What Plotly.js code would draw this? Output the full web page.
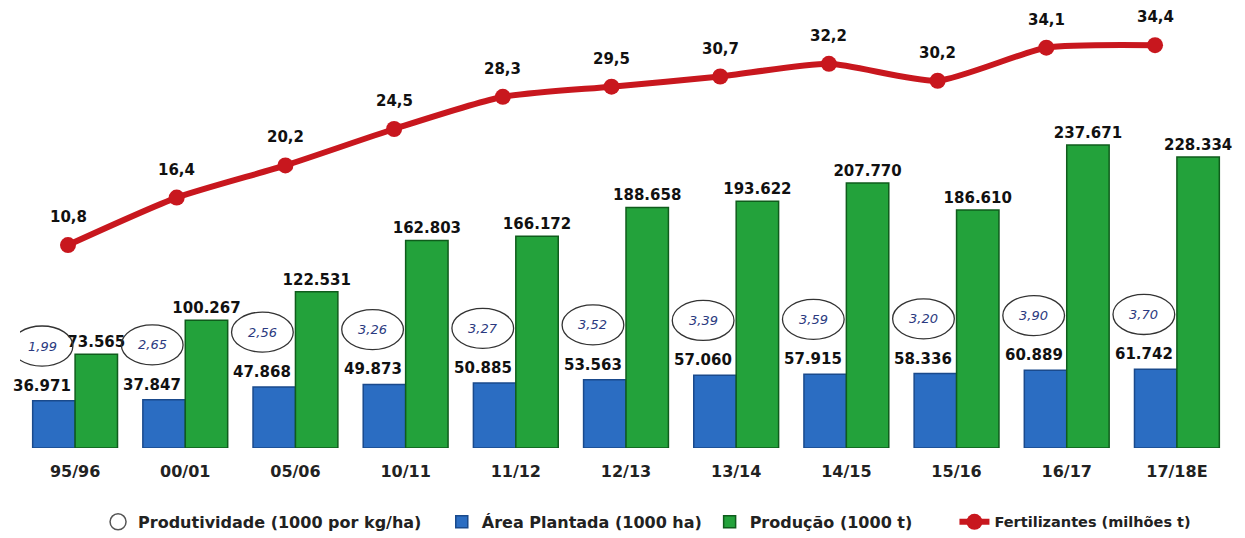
<!DOCTYPE html>
<html>
<head>
<meta charset="utf-8">
<script src="https://cdn.plot.ly/plotly-3.0.1.min.js"></script>
<style>
  html, body { margin: 0; padding: 0; background: #ffffff; }
  #chart { width: 1245px; height: 538px; }
</style>
</head>
<body>
<div id="chart"></div>
<script>
// ---- Data ----
const categorias = ['95/96', '00/01', '05/06', '10/11', '11/12', '12/13', '13/14', '14/15', '15/16', '16/17', '17/18E'];
const areaPlantada = [36971, 37847, 47868, 49873, 50885, 53563, 57060, 57915, 58336, 60889, 61742];      // 1000 ha
const producao = [73565, 100267, 122531, 162803, 166172, 188658, 193622, 207770, 186610, 237671, 228334]; // 1000 t
const produtividade = [1.99, 2.65, 2.56, 3.26, 3.27, 3.52, 3.39, 3.59, 3.20, 3.90, 3.70];
const fertilizantes = [10.8, 16.4, 20.2, 24.5, 28.3, 29.5, 30.7, 32.2, 30.2, 34.1, 34.4];               // milhões t

// ---- Formatting helpers (pt-BR) ----
function milhar(v) { return String(v).replace(/\B(?=(\d{3})+(?!\d))/g, '.'); }
function dec(v, n) { return v.toFixed(n).replace('.', ','); }

const FONT = 'DejaVu Sans, Verdana, sans-serif';
const BLUE = '#2b6dc2', BLUE_EDGE = '#1a4a8c';
const GREEN = '#23a23b', GREEN_EDGE = '#0f5c1c';
const RED = '#c8171e';

const traces = [
  { // legend entry for productivity ellipses
    type: 'scatter', mode: 'markers', name: 'Produtividade (1000 por kg/ha)',
    x: [null], y: [null], legend: 'legend',
    marker: { symbol: 'circle-open', size: 16, color: '#555', line: { width: 1.5, color: '#555' } },
    hoverinfo: 'skip'
  },
  {
    type: 'bar', name: 'Área Plantada (1000 ha)', legend: 'legend2',
    x: categorias, y: areaPlantada,
    marker: { color: BLUE, line: { color: BLUE_EDGE, width: 1.5 } },
    hoverinfo: 'x+y'
  },
  {
    type: 'bar', name: 'Produção (1000 t)', legend: 'legend3',
    x: categorias, y: producao,
    text: producao.map(milhar), textposition: 'outside', cliponaxis: false, constraintext: 'none',
    textfont: { family: FONT, size: 15, color: '#111', weight: 'bold' },
    marker: { color: GREEN, line: { color: GREEN_EDGE, width: 1.5 } },
    hoverinfo: 'x+y'
  },
  {
    type: 'scatter', mode: 'lines+markers', name: 'Fertilizantes (milhões t)', legend: 'legend4',
    x: categorias, y: fertilizantes, xaxis: 'x2', yaxis: 'y2',
    line: { color: RED, width: 6, shape: 'spline', smoothing: 0.6 },
    marker: { color: RED, size: 16 },
    cliponaxis: false
  }
];

const annotations = [];
const shapes = [];
categorias.forEach((c, i) => {
  const cx = i - 0.3;
  const cy = areaPlantada[i] + 43000;
  // area label
  annotations.push({
    x: cx, y: areaPlantada[i], xref: 'x', yref: 'y', yanchor: 'bottom', yshift: 4,
    text: milhar(areaPlantada[i]), showarrow: false,
    font: { family: FONT, size: 15, color: '#111', weight: 'bold' }
  });
  // productivity ellipse
  shapes.push({
    type: 'circle', xref: 'x', yref: 'y',
    x0: cx - 0.28, x1: cx + 0.28, y0: cy - 15700, y1: cy + 15700,
    line: { color: '#333', width: 1.3 }, fillcolor: 'rgba(0,0,0,0)'
  });
  annotations.push({
    x: cx, y: cy, xref: 'x', yref: 'y', text: dec(produtividade[i], 2), showarrow: false,
    font: { family: FONT, size: 13, color: '#2b3a80', style: 'italic' }
  });
  // fertilizer label
  annotations.push({
    x: c, y: fertilizantes[i], xref: 'x2', yref: 'y2', yshift: 28,
    text: dec(fertilizantes[i], 1), showarrow: false,
    font: { family: FONT, size: 15, color: '#111', weight: 'bold' }
  });
});

function leg(x, size) {
  return {
    orientation: 'h', x: x, xanchor: 'left', yref: 'container', y: 0.03, yanchor: 'middle',
    font: { family: FONT, size: size, color: '#222', weight: 'bold' },
    bgcolor: 'rgba(0,0,0,0)'
  };
}

const layout = {
  width: 1245, height: 538,
  margin: { l: 20, r: 13, t: 20, b: 90, autoexpand: false },
  paper_bgcolor: '#ffffff', plot_bgcolor: '#ffffff',
  barmode: 'group', bargap: 0.23, bargroupgap: 0,
  showlegend: true,
  legend: leg(0.0644, 16),
  legend2: leg(0.348, 16),
  legend3: leg(0.569, 16),
  legend4: leg(0.771, 14.5),
  xaxis: {
    type: 'category', categoryarray: categorias, range: [-0.5, 10.5],
    showgrid: false, zeroline: false, showline: false,
    ticks: 'outside', ticklen: 9, tickcolor: 'rgba(0,0,0,0)',
    tickfont: { family: FONT, size: 16, color: '#222', weight: 'bold' }
  },
  xaxis2: {
    type: 'category', categoryarray: categorias, overlaying: 'x', anchor: 'y2',
    range: [-0.4416, 10.708], visible: false
  },
  yaxis: {
    range: [0, 335700], visible: false, showgrid: false, zeroline: false
  },
  yaxis2: {
    range: [-13.16, 37.37], overlaying: 'y', visible: false, showgrid: false, zeroline: false
  },
  annotations: annotations,
  shapes: shapes
};

Plotly.newPlot('chart', traces, layout, { displayModeBar: false, staticPlot: true });
</script>
</body>
</html>
